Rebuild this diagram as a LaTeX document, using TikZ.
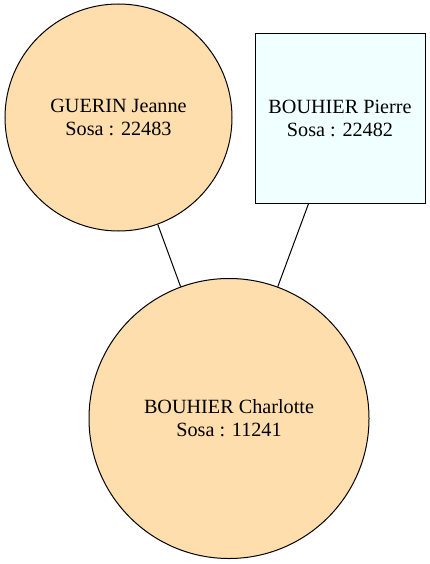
\documentclass[tikz,border=0pt]{standalone}
\usepackage{fontspec}
\setmainfont{Liberation Serif}
\definecolor{navajo}{HTML}{FFDEAD}
\definecolor{azurebox}{HTML}{F0FFFF}
\begin{document}
\begin{tikzpicture}[x=1pt, y=-1pt, line width=1pt,
        person/.style={draw, align=center, inner sep=0pt,
            font=\fontsize{20.2}{23}\selectfont},
        womancirc/.style={person, circle, fill=navajo},
        manbox/.style={person, rectangle, fill=azurebox}]
    \useasboundingbox (0, 0) rectangle (430, 564);
    \node[womancirc, minimum size=227pt] (jeanne) at (118.5, 117.5) {GUERIN Jeanne\\Sosa : 22483};
    \node[manbox, minimum width=170pt, minimum height=169pt] (pierre) at (340, 118.5) {BOUHIER Pierre\\Sosa : 22482};
    \node[womancirc, minimum size=280pt] (charlotte) at (229, 418.5) {BOUHIER Charlotte\\Sosa : 11241};
    \draw (jeanne) -- (charlotte);
    \draw (pierre) -- (charlotte);
\end{tikzpicture}
\end{document}
